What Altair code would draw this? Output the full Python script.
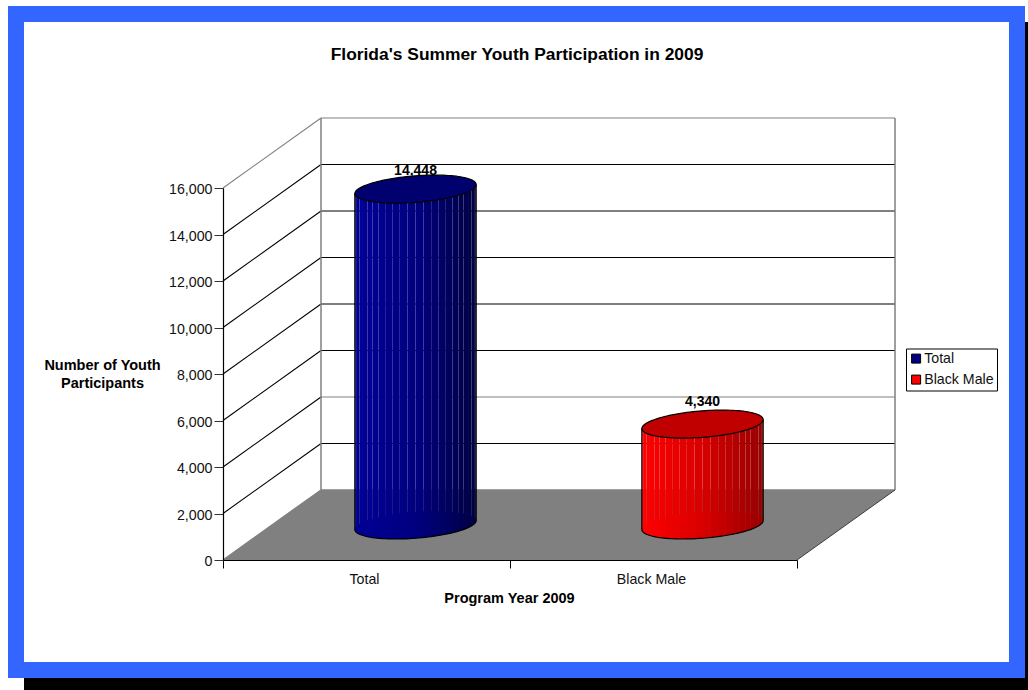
import numpy as np
import pandas as pd
import altair as alt

# Chart values
categories = ["Total", "Black Male"]
participants = [14448, 4340]
legend_colors = ["#000080", "#FF0000"]
lid_colors = ["#00006E", "#C00000"]
body_shades = [
    [(0, 0, 150), (0, 0, 128), (0, 0, 66)],
    [(255, 0, 0), (215, 0, 0), (150, 0, 0)],
]
label_lift = [-18.5, -22]
tick_values = [0, 2000, 4000, 6000, 8000, 10000, 12000, 14000, 16000]
grey_grid = [4000, 16000]

# Oblique projection: one unit of depth moves a point right and up, in data units
DEPTH_X = 0.3415
DEPTH_Y = 3011
RADIUS_U = 0.2
RADIUS_D = 0.2
FACETS = 24
FONT = "Liberation Sans"

# Plot origin inside the page
OX, OY = 223, 188

XS = alt.Scale(domain=[0, 2], nice=False, zero=False)
YS = alt.Scale(domain=[0, 16000], nice=False, zero=False)

y_axis = alt.Axis(
    values=tick_values, labelExpr="format(datum.value, ',')", grid=False, zindex=1,
    tickSize=9, tickColor="#333333", domainColor="#000000", domainWidth=1.2,
    labelFont=FONT, labelFontSize=14.2, labelColor="#111111", labelPadding=2, labelOffset=1.5,
    title=["Number of Youth", "Participants"], titleAngle=0, titleFont=FONT,
    titleFontSize=14.5, titleFontWeight="bold", titleAlign="center", titleBaseline="middle",
    titleX=102 - OX, titleY=365 - OY, titleLineHeight=18, titleColor="#000000",
)
x_axis = alt.Axis(
    values=[0, 1, 2], labels=False, grid=False, zindex=1, tickSize=8, tickColor="#000000",
    domainColor="#000000", domainWidth=1.2, title="Program Year 2009", titleFont=FONT,
    titleFontSize=14.5, titleFontWeight="bold", titleX=509 - OX, titleY=38,
    titleAlign="center", titleBaseline="middle", titleColor="#000000",
)


def X(field="x"):
    return alt.X(f"{field}:Q", scale=XS, axis=x_axis)


def Y(field="y"):
    return alt.Y(f"{field}:Q", scale=YS, axis=y_axis)


def shade(stops, f):
    a, b = (stops[0], stops[1]) if f < 0.5 else (stops[1], stops[2])
    w = f * 2 if f < 0.5 else (f - 0.5) * 2
    return "#%02x%02x%02x" % tuple(int(round(p + (q - p) * w)) for p, q in zip(a, b))


# Ellipse of a cylinder's circular section at height v, as upper and lower curves
radius_x = np.hypot(RADIUS_U, RADIUS_D * DEPTH_X)
tilt = np.arctan2(RADIUS_D * DEPTH_X, RADIUS_U)


def ellipse_x(i, s):
    return i + 0.5 + 0.5 * DEPTH_X + radius_x * np.cos(s)


def ellipse_y(v, s):
    return v + 0.5 * DEPTH_Y + RADIUS_D * DEPTH_Y * np.sin(s + tilt)


sweep = np.linspace(0, np.pi, 61)
loop = np.linspace(0, 2 * np.pi, 121)
cuts = np.linspace(0, np.pi, FACETS + 1)

base_rows, lid_rows, lid_line, body_rows, edge_rows, label_rows = [], [], [], [], [], []
for i, (name, value) in enumerate(zip(categories, participants)):
    for s in sweep:
        base_rows.append({"series": name, "x": ellipse_x(i, s),
                          "y": ellipse_y(0, s), "y2": ellipse_y(0, -s)})
        lid_rows.append({"series": name, "fill": lid_colors[i], "x": ellipse_x(i, s),
                         "y": ellipse_y(value, s), "y2": ellipse_y(value, -s)})
    for k, s in enumerate(loop):
        lid_line.append({"series": name, "k": k, "x": ellipse_x(i, s), "y": ellipse_y(value, s)})
    for k in range(FACETS):
        f = 1 - (1 - np.cos(cuts[k] + (cuts[1] - cuts[0]) / 2)) / 2
        colour = shade(body_shades[i], f)
        for s in (cuts[k], cuts[k + 1]):
            body_rows.append({"facet": f"{i}-{k}", "fill": colour, "x": ellipse_x(i, s),
                              "y": ellipse_y(0, -s), "y2": ellipse_y(value, -s)})
    edge = [(ellipse_x(i, 0), ellipse_y(value, 0))]
    edge += [(ellipse_x(i, s), ellipse_y(0, -s)) for s in sweep]
    edge += [(ellipse_x(i, np.pi), ellipse_y(value, np.pi))]
    for k, (ex, ey) in enumerate(edge):
        edge_rows.append({"series": name, "k": k, "x": ex, "y": ey})
    label_rows.append({"name": name, "value": value, "lift": label_lift[i],
                       "x": i + 0.5 + 0.5 * DEPTH_X, "y": value + 0.5 * DEPTH_Y,
                       "cx": i + 0.5})

# Walls, floor and gridlines: a diagonal on the side wall, then a run along the back wall
grid_rows = []
for v in tick_values[1:]:
    side_colour = "#808080" if v == 16000 else "#000000"
    back_colour = "#808080" if v in grey_grid else "#000000"
    grid_rows += [
        {"seg": f"{v}-side", "k": 0, "x": 0, "y": v, "colour": side_colour},
        {"seg": f"{v}-side", "k": 1, "x": DEPTH_X, "y": v + DEPTH_Y, "colour": side_colour},
        {"seg": f"{v}-back", "k": 0, "x": DEPTH_X, "y": v + DEPTH_Y, "colour": back_colour},
        {"seg": f"{v}-back", "k": 1, "x": 2 + DEPTH_X, "y": v + DEPTH_Y, "colour": back_colour},
    ]
floor_rows = pd.DataFrame({
    "x": [0, DEPTH_X, 2, 2 + DEPTH_X],
    "y": [0, DEPTH_Y, DEPTH_Y, DEPTH_Y],
    "y2": [0, 0, 0, DEPTH_Y],
})
wall_edges = pd.DataFrame({
    "x": [0, DEPTH_X, DEPTH_X, None, 2 + DEPTH_X, 2 + DEPTH_X, None, DEPTH_X, 2 + DEPTH_X],
    "y": [0, DEPTH_Y, 16000 + DEPTH_Y, None, DEPTH_Y, 16000 + DEPTH_Y, None, DEPTH_Y, DEPTH_Y],
    "k": list(range(9)),
})
floor_front = pd.DataFrame({"x": [2, 2 + DEPTH_X], "y": [0, DEPTH_Y], "k": [0, 1]})


# Slide frame with its drop shadow, measured from the plot origin
def frame(colour, left, top, right, bottom):
    return alt.Chart(pd.DataFrame({"a": [0]})).mark_rect(color=colour).encode(
        x=alt.value(left - OX), x2=alt.value(right - OX),
        y=alt.value(top - OY), y2=alt.value(bottom - OY))


frames = [
    frame("#000000", 24, 22, 1028, 690),
    frame("#3366FF", 8, 6, 1025, 678),
    frame("#FFFFFF", 24, 22, 1009, 662),
]

floor = alt.Chart(floor_rows).mark_area(color="#808080").encode(x=X(), y=Y(), y2="y2:Q")
grid = alt.Chart(pd.DataFrame(grid_rows)).mark_line(strokeWidth=1.1).encode(
    x=X(), y=Y(), order="k:Q", detail="seg:N", color=alt.Color("colour:N", scale=None, legend=None))
walls = alt.Chart(wall_edges).mark_line(color="#808080", strokeWidth=1.5).encode(
    x=X(), y=Y(), order="k:Q")
front_edge = alt.Chart(floor_front).mark_line(color="#222222", strokeWidth=0.8).encode(
    x=X(), y=Y(), order="k:Q")

base = alt.Chart(pd.DataFrame(base_rows)).mark_area().encode(
    x=X(), y=Y(), y2="y2:Q",
    fill=alt.Fill("series:N", scale=alt.Scale(domain=categories, range=legend_colors),
                  legend=alt.Legend(
                      orient="none", legendX=906 - OX, legendY=348.5 - OY, title=None,
                      strokeColor="#000000", fillColor="#FFFFFF", padding=3,
                      symbolType="square", symbolSize=81, symbolStrokeColor="#000000",
                      symbolStrokeWidth=1, labelFont=FONT, labelFontSize=14.2,
                      labelColor="#111111", rowPadding=6, labelOffset=1, symbolOffset=0)))
body = alt.Chart(pd.DataFrame(body_rows)).mark_area().encode(
    x=X(), y=Y(), y2="y2:Q", detail="facet:N",
    color=alt.Color("fill:N", scale=None, legend=None))
lid = alt.Chart(pd.DataFrame(lid_rows)).mark_area().encode(
    x=X(), y=Y(), y2="y2:Q", detail="series:N",
    color=alt.Color("fill:N", scale=None, legend=None))
lid_outline = alt.Chart(pd.DataFrame(lid_line)).mark_line(color="#000000", strokeWidth=1.2).encode(
    x=X(), y=Y(), order="k:Q", detail="series:N")
edges = alt.Chart(pd.DataFrame(edge_rows)).mark_line(color="#000000", strokeWidth=1.2).encode(
    x=X(), y=Y(), order="k:Q", detail="series:N")

value_labels = [
    alt.Chart(pd.DataFrame([row])).mark_text(
        font=FONT, fontSize=14, fontWeight="bold", color="#000000", dy=row["lift"]
    ).encode(x=X(), y=Y(), text=alt.Text("value:Q", format=","))
    for row in label_rows
]
category_labels = alt.Chart(pd.DataFrame(label_rows).assign(y0=0)).mark_text(
    font=FONT, fontSize=14.2, color="#111111", dy=20, dx=-2
).encode(x=X("cx"), y=Y("y0"), text="name:N")

chart = alt.layer(
    *frames, floor, grid, walls, front_edge, base, body, lid, lid_outline, edges,
    *value_labels, category_labels,
).properties(
    width=1028 - OX - 231,
    height=372,
    padding={"left": OX, "top": OY, "right": 231, "bottom": 690 - 560},
    autosize="none",
    background="#FFFFFF",
    title=alt.TitleParams(
        "Florida's Summer Youth Participation in 2009", font=FONT, fontSize=17.4,
        fontWeight="bold", color="#000000", anchor="middle", dx=7, offset=-57,
    ),
).configure_view(stroke=None)

chart.save("out.html", embed_options={"renderer": "svg", "actions": False})
